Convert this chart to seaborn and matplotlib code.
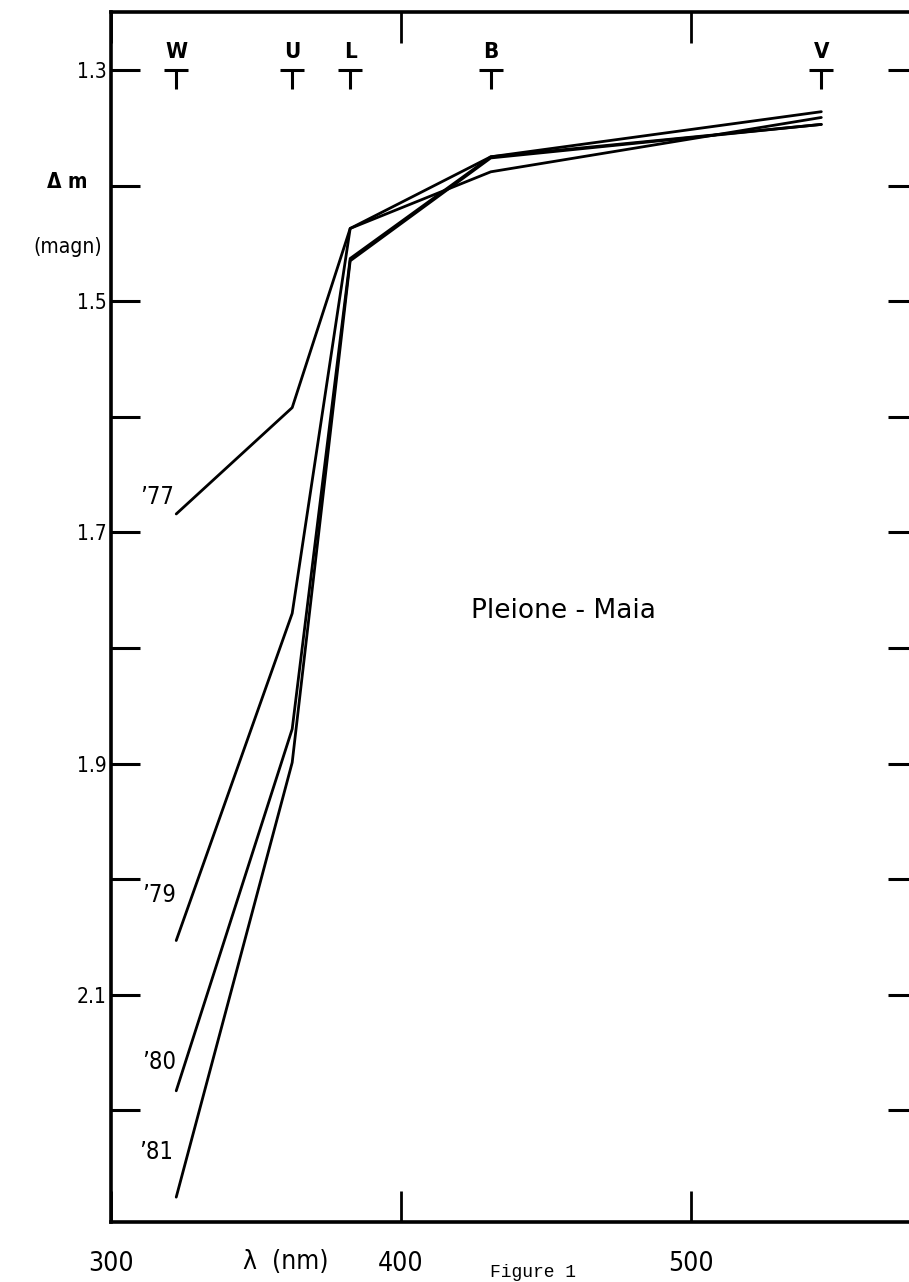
import numpy as np
import pandas as pd
import matplotlib
matplotlib.use('Agg')
import matplotlib.pyplot as plt
from matplotlib.path import Path
import seaborn as sns

# photometric bands (nm) and colour differences Pleione - Maia
bands = ['W', 'U', 'L', 'B', 'V']
wavelength = [322.5, 362.5, 382.5, 431.0, 545.0]
years = ['\u201977', '\u201979', '\u201980', '\u201981']
dm_77 = [1.684, 1.592, 1.437, 1.388, 1.341]
dm_79 = [2.053, 1.770, 1.437, 1.375, 1.336]
dm_80 = [2.183, 1.870, 1.463, 1.375, 1.347]
dm_81 = [2.275, 1.899, 1.465, 1.376, 1.347]

yticks = [1.3, 1.4, 1.5, 1.6, 1.7, 1.8, 1.9, 2.0, 2.1, 2.2]
ylabels = ['1.3', '', '1.5', '', '1.7', '', '1.9', '', '2.1', '']
xticks = [300, 400, 500]
xlabels = ['300', '400', '500']

df = pd.DataFrame({
    'lam': wavelength * 4,
    'dm': dm_77 + dm_79 + dm_80 + dm_81,
    'year': np.repeat(years, len(wavelength)),
})

sns.set_theme(style='white')
plt.rcParams['font.family'] = ['DejaVu Sans']
plt.rcParams['font.stretch'] = 'condensed'
plt.rcParams['text.color'] = 'black'

fig = plt.figure(figsize=(9.09, 12.82), dpi=100)
ax = fig.add_axes([0.1221, 0.0468, 0.8867, 0.9438])

sns.lineplot(data=df, x='lam', y='dm', hue='year', palette=['black'] * 4,
             linewidth=2.0, legend=False, errorbar=None, sort=False, ax=ax)

ax.set_xlim(300, 578)
ax.set_ylim(2.2965, 1.2498)

for s in ax.spines.values():
    s.set_color('black')
    s.set_linewidth(2.6)

ax.set_yticks(yticks)
ax.set_yticklabels(ylabels)
ax.tick_params(axis='y', direction='in', length=21, width=2.2, left=True, right=True,
               labelsize=15, pad=3, colors='black')
ax.set_xticks(xticks)
ax.set_xticklabels(xlabels)
ax.tick_params(axis='x', direction='in', length=22, width=2.0, bottom=True, top=True,
               labelsize=19, pad=21, colors='black')
ax.set_xlabel('')
ax.set_ylabel('')

# T shaped band markers with band letters above
t_marker = Path([(-1, 0), (1, 0), (0, 0), (0, -1.6)],
                [Path.MOVETO, Path.LINETO, Path.MOVETO, Path.LINETO])
marker_level = 1.3
ax.plot(wavelength, [marker_level] * len(wavelength), ls='none', marker=t_marker,
        ms=27, mew=2.2, color='black', clip_on=False)
for b, w in zip(bands, wavelength):
    ax.annotate(b, (w, marker_level), xytext=(0, 6), textcoords='offset points',
                ha='center', va='bottom', fontsize=16, fontweight='bold')

# year labels next to the line ends
label_pos = [(316.0, 1.669), (316.7, 2.014), (316.7, 2.158), (315.6, 2.236)]
for yr, (lx, ly) in zip(years, label_pos):
    ax.text(lx, ly, yr, ha='center', va='center', fontsize=17)

ax.text(456, 1.768, 'Pleione - Maia', ha='center', va='center', fontsize=19,
        fontstretch='normal')

fig.text(67 / 909, 1 - 182 / 1282, '\u0394 m', ha='center', va='center', fontsize=15,
         fontweight='bold')
fig.text(68 / 909, 1 - 247 / 1282, '(magn)', ha='center', va='center', fontsize=15)
fig.text(286 / 909, 1 - 1262 / 1282, '\u03bb  (nm)', ha='center', va='center', fontsize=19)
fig.text(490 / 909, 1 - 1281 / 1282, 'Figure 1', ha='left', va='bottom', fontsize=13,
         family=['Liberation Mono'])

fig.savefig('out.png', dpi=100)
